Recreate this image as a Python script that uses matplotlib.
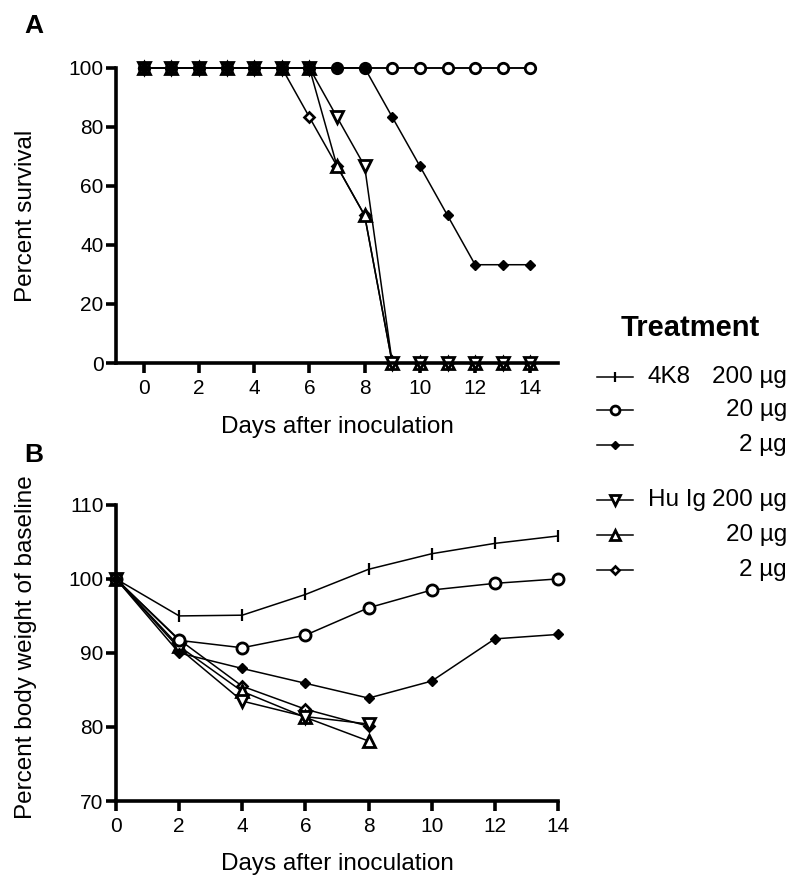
import matplotlib
matplotlib.use("Agg")
import matplotlib.pyplot as plt

plt.rcParams['font.family'] = ['Liberation Sans', 'DejaVu Sans']

# ---------------------- Data -------------------

days_a = list(range(0, 15))
surv_4k8_200 = [100] * 15
surv_4k8_20 = [100] * 15
surv_4k8_2 = [100, 100, 100, 100, 100, 100, 100, 100, 100, 83.3, 66.7, 50, 33.3, 33.3, 33.3]
surv_hu_200 = [100, 100, 100, 100, 100, 100, 100, 83.3, 66.7, 0, 0, 0, 0, 0, 0]
surv_hu_20 = [100, 100, 100, 100, 100, 100, 100, 66.7, 50, 0, 0, 0, 0, 0, 0]
surv_hu_2 = [100, 100, 100, 100, 100, 100, 83.3, 66.7, 50, 0, 0, 0, 0, 0, 0]

days_b = [0, 2, 4, 6, 8, 10, 12, 14]
days_b_hu = [0, 2, 4, 6, 8]
wt_4k8_200 = [100, 95.0, 95.1, 97.9, 101.3, 103.4, 104.8, 105.8]
wt_4k8_20 = [100, 91.7, 90.7, 92.4, 96.1, 98.5, 99.4, 100.0]
wt_4k8_2 = [100, 90.0, 87.9, 85.9, 83.9, 86.2, 91.9, 92.5]
wt_hu_200 = [100, 90.6, 83.5, 81.4, 80.4]
wt_hu_20 = [100, 90.9, 84.8, 81.3, 78.1]
wt_hu_2 = [100, 91.8, 85.5, 82.4, 80.1]

groups = ['4K8', 'Hu Ig']
doses = ['200 µg', '20 µg', '2 µg']

# ---------------------- Styles -------------------
# order: 4K8 200, 4K8 20, 4K8 2, Hu 200, Hu 20, Hu 2

styles_a = [
    dict(marker='|', mfc='black', mec='black', ms=9, mew=1.6),
    dict(marker='o', mfc='white', mec='black', ms=7.5, mew=2.0),
    dict(marker='D', mfc='black', mec='black', ms=5.2, mew=1.0),
    dict(marker='v', mfc='white', mec='black', ms=8, mew=2.0),
    dict(marker='^', mfc='white', mec='black', ms=8, mew=2.0),
    dict(marker='D', mfc='white', mec='black', ms=5.3, mew=1.9),
]
styles_b = [
    dict(marker='|', mfc='black', mec='black', ms=9, mew=1.6),
    dict(marker='o', mfc='white', mec='black', ms=8, mew=2.0),
    dict(marker='D', mfc='black', mec='black', ms=5.4, mew=1.0),
    dict(marker='v', mfc='white', mec='black', ms=8.5, mew=2.0),
    dict(marker='^', mfc='white', mec='black', ms=8.5, mew=2.0),
    dict(marker='D', mfc='white', mec='black', ms=5.5, mew=1.9),
]
draw_order = [5, 4, 3, 0, 1, 2]  # Hu Ig first, filled diamond ends up on top


def style_axes(ax):
    for s in ['top', 'right']:
        ax.spines[s].set_visible(False)
    for s in ['left', 'bottom']:
        ax.spines[s].set_linewidth(2.6)
    ax.tick_params(width=2.6, length=7, labelsize=15, direction='out')
    ax.tick_params(axis='y', pad=2)
    ax.tick_params(axis='x', pad=4.5)


fig = plt.figure(figsize=(8, 8.92), dpi=100)

# ---------------------- Panel A -------------------

axA = fig.add_axes([0.145, 0.593, 0.5525, 0.331])
surv = [surv_4k8_200, surv_4k8_20, surv_4k8_2, surv_hu_200, surv_hu_20, surv_hu_2]
for i in draw_order:
    axA.plot(days_a, surv[i], color='black', lw=1.1, clip_on=False, **styles_a[i])
axA.set_xlim(-1, 15)
axA.set_ylim(0, 100)
axA.set_xticks(range(0, 15, 2))
axA.set_yticks(range(0, 101, 20))
axA.set_xlabel('Days after inoculation', fontsize=17.5, labelpad=13)
axA.set_ylabel('Percent survival', fontsize=17.5)
axA.yaxis.set_label_coords(-0.178, 0.5)
style_axes(axA)

# ---------------------- Panel B -------------------

axB = fig.add_axes([0.145, 0.102, 0.5525, 0.332])
weights = [wt_4k8_200, wt_4k8_20, wt_4k8_2, wt_hu_200, wt_hu_20, wt_hu_2]
for i in draw_order:
    xx = days_b if i < 3 else days_b_hu
    axB.plot(xx, weights[i], color='black', lw=1.1, clip_on=False, **styles_b[i])
axB.set_xlim(0, 14)
axB.set_ylim(70, 110)
axB.set_xticks(days_b)
axB.set_yticks(range(70, 111, 10))
axB.set_xlabel('Days after inoculation', fontsize=17.5, labelpad=12)
axB.set_ylabel('Percent body weight of baseline', fontsize=17.5)
axB.yaxis.set_label_coords(-0.178, 0.52)
style_axes(axB)

fig.text(0.042, 0.971, 'A', fontsize=19, fontweight='bold', va='center', ha='center')
fig.text(0.042, 0.49, 'B', fontsize=19, fontweight='bold', va='center', ha='center')

# ---------------------- Legend -------------------

axL = fig.add_axes([0, 0, 1, 1], facecolor='none')
axL.set_xlim(0, 800)
axL.set_ylim(892, 0)
axL.axis('off')
fig.text(690 / 800, 1 - 328 / 892, 'Treatment', fontsize=21, fontweight='bold', ha='center', va='center')
row_y = [377, 410, 445, 500, 535, 570]
for i, yrow in enumerate(row_y):
    st = dict(styles_a[i])
    st['ms'] = st['ms'] * 0.85
    axL.plot([597, 633], [yrow, yrow], color='black', lw=1.1)
    axL.plot([615], [yrow], color='black', lw=0, **st)
    if i % 3 == 0:
        fig.text(648 / 800, 1 - yrow / 892, groups[i // 3], fontsize=17.5, ha='left', va='center')
    fig.text(787 / 800, 1 - yrow / 892, doses[i % 3], fontsize=17.5, ha='right', va='center')

fig.savefig('out.png', dpi=100)
